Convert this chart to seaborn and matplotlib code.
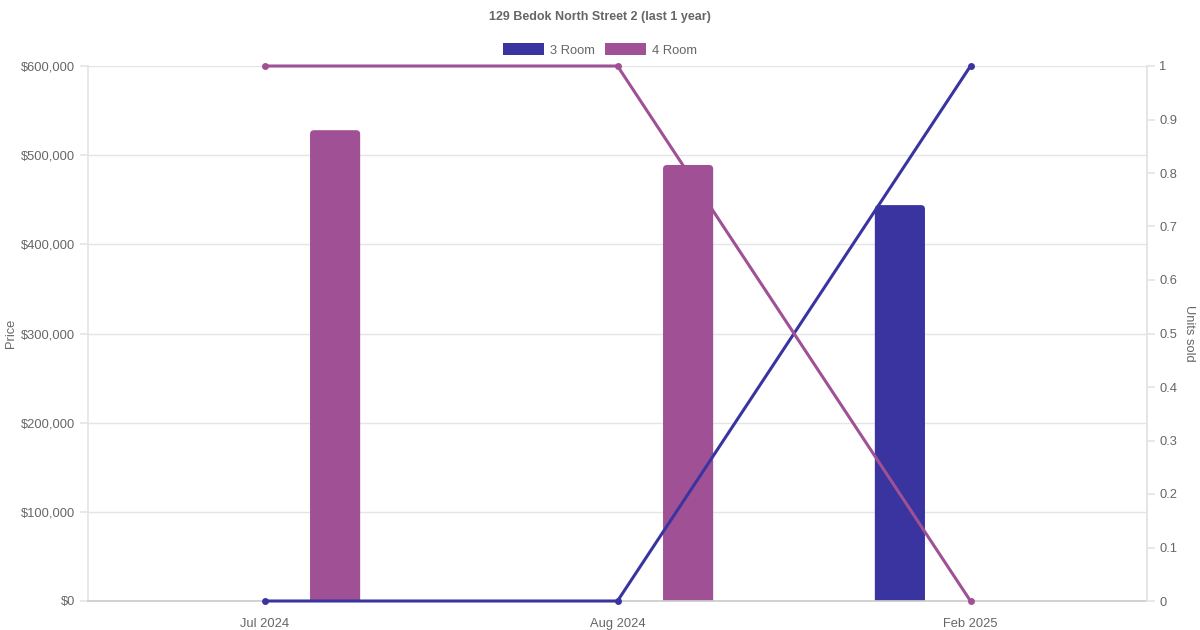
import numpy as np
import pandas as pd
import matplotlib
matplotlib.use("Agg")
import matplotlib.pyplot as plt
import seaborn as sns
from matplotlib.patches import FancyBboxPatch, Patch

# chart data
months = ["Jul 2024", "Aug 2024", "Feb 2025"]
flat_types = ["3 Room", "4 Room"]
price_3room = [np.nan, np.nan, 444000]
price_4room = [528000, 489000, np.nan]
units_3room = [0, 0, 1]
units_4room = [1, 1, 0]

colors = {"3 Room": "#3a34a0", "4 Room": "#a05094"}
text_col = "#666666"
grid_col = "#e5e5e5"

df = pd.DataFrame({
    "month": months * 2,
    "type": ["3 Room"] * 3 + ["4 Room"] * 3,
    "price": price_3room + price_4room,
}).dropna()

sns.set_theme(style="white")
plt.rcParams["font.family"] = ["Liberation Sans", "DejaVu Sans"]

fig = plt.figure(figsize=(12, 6.3), dpi=100)
ax = fig.add_axes([88 / 1200, 29 / 630, (1147 - 88) / 1200, (601 - 66) / 630])

sns.barplot(data=df, x="month", y="price", hue="type", order=months,
            hue_order=flat_types, palette=colors, errorbar=None, ax=ax,
            width=0.8, dodge=True, saturation=1)
if ax.get_legend() is not None:
    ax.get_legend().remove()

# make bars thinner with rounded tops (chart.js look)
bar_w = 0.142
ysz = 4486
rads = 0.0115
for p in list(ax.patches):
    h = p.get_height()
    if not np.isfinite(h) or h == 0:
        p.remove()
        continue
    cx = p.get_x() + p.get_width() / 2
    fc = p.get_facecolor()
    p.remove()
    fb = FancyBboxPatch((cx - bar_w / 2, -20000), bar_w, h + 20000,
                        boxstyle=f"round,pad=0,rounding_size={rads}",
                        mutation_aspect=ysz / rads, facecolor=fc,
                        edgecolor="none", zorder=2)
    ax.add_patch(fb)

ax.set_xlim(-0.5, 2.5)
ax.set_ylim(0, 600000)
ax.set_yticks(np.arange(0, 600001, 100000))
ax.set_yticklabels([f"${v:,.0f}" for v in np.arange(0, 600001, 100000)])
ax.yaxis.grid(True, color=grid_col, linewidth=1)
ax.xaxis.grid(False)
ax.set_axisbelow(True)
ax.set_xlabel("")
ax.set_ylabel("")
ax.tick_params(axis="y", left=True, length=6, color=grid_col, colors=text_col,
               labelsize=9.3, pad=3)
ax.tick_params(axis="x", bottom=False, colors=text_col, labelsize=9.3, pad=6)
ax.spines["top"].set_visible(False)
ax.spines["left"].set_color(grid_col)
ax.spines["right"].set_color(grid_col)
ax.spines["bottom"].set_color("#cccccc")

# units sold on the right axis
ax2 = ax.twinx()
pos = np.arange(len(months))
sns.lineplot(x=pos, y=units_3room, ax=ax2, color=colors["3 Room"], marker="o",
             markersize=5, markeredgewidth=0, linewidth=2.2)
sns.lineplot(x=pos, y=units_4room, ax=ax2, color=colors["4 Room"], marker="o",
             markersize=5, markeredgewidth=0, linewidth=2.2)
ax2.set_xlim(-0.5, 2.5)
ax2.set_ylim(0, 1)
ax2.set_yticks(np.arange(0, 1.01, 0.1))
ax2.set_yticklabels(["0"] + [f"{v:.1f}" for v in np.arange(0.1, 0.95, 0.1)] + ["1"])
ax2.set_ylabel("")
ax2.tick_params(axis="y", right=True, length=6, color=grid_col, colors=text_col,
                labelsize=9.3, pad=3)
ax2.grid(False)
for s in ["top", "left", "bottom"]:
    ax2.spines[s].set_visible(False)
ax2.spines["right"].set_color(grid_col)
for ln in ax2.lines:
    ln.set_clip_on(False)

fig.text(11 / 1200, 1 - 333 / 630, "Price", rotation=90, ha="center", va="center",
         fontsize=9.3, color=text_col)
fig.text(1189 / 1200, 1 - 333 / 630, "Units sold", rotation=270, ha="center",
         va="center", fontsize=9.3, color=text_col)

fig.text(0.5, 1 - 17 / 630, "129 Bedok North Street 2 (last 1 year)",
         ha="center", va="center", fontsize=9, fontweight="bold", color=text_col)

handles = [Patch(facecolor=colors[t], edgecolor="none", label=t) for t in flat_types]
fig.legend(handles=handles, loc="center", bbox_to_anchor=(0.5, 1 - 50 / 630),
           ncol=2, frameon=False, fontsize=9.3, handlelength=3.2, handleheight=0.95,
           columnspacing=0.75, handletextpad=0.45, labelcolor=text_col)

fig.savefig("out.png", dpi=100)
